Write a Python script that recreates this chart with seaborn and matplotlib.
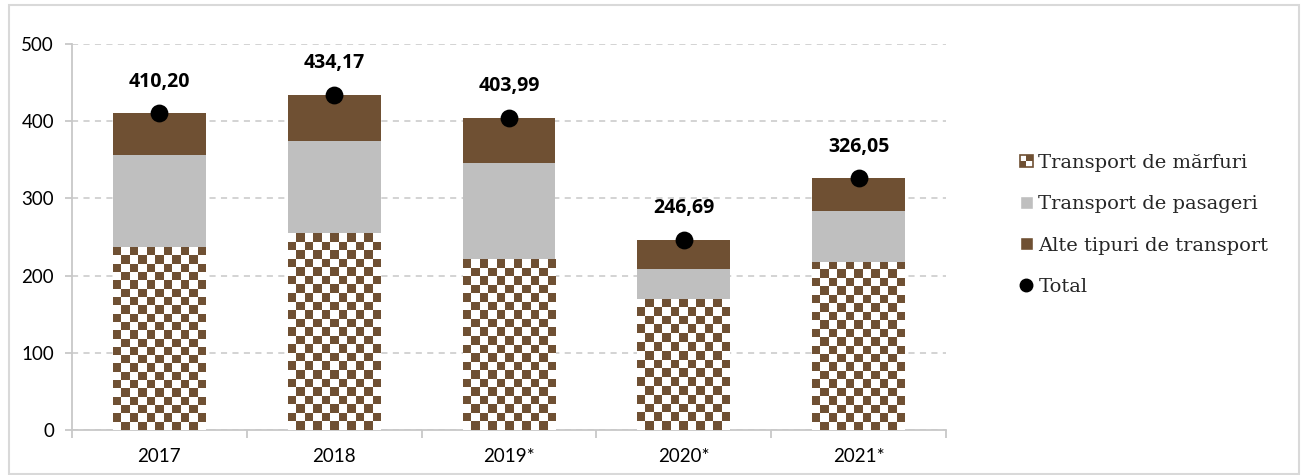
import numpy as np
import pandas as pd
import matplotlib
matplotlib.use("Agg")
import matplotlib.pyplot as plt
from matplotlib.patches import Rectangle, Patch
from matplotlib.lines import Line2D
from matplotlib.legend_handler import HandlerBase
import seaborn as sns

years = ["2017", "2018", "2019*", "2020*", "2021*"]
marfuri = [237, 255, 221, 170, 218]
pasageri = [119, 119, 125, 38, 66]
total = [410.20, 434.17, 403.99, 246.69, 326.05]
series_names = ["Transport de mărfuri", "Transport de pasageri",
                "Alte tipuri de transport", "Total"]

BROWN = "#6F5033"
GRAY = "#BFBFBF"
AXGRAY = "#C8C8C8"

sns.set_theme(style="white")
plt.rcParams["font.family"] = ["Lato", "DejaVu Sans"]

df = pd.DataFrame({"year": years, "marfuri": marfuri, "pasageri": pasageri, "total": total})
df["mp"] = df["marfuri"] + df["pasageri"]

fig = plt.figure(figsize=(13.04, 4.75), dpi=100)
ax = fig.add_axes([72/1304, 1-430/475, (946-72)/1304, (430-44)/475])

W = 0.53
sns.barplot(data=df, x="year", y="total", color=BROWN, saturation=1, width=W, ax=ax, zorder=2, linewidth=0)
sns.barplot(data=df, x="year", y="mp", color=GRAY, saturation=1, width=W, ax=ax, zorder=3, linewidth=0)
sns.barplot(data=df, x="year", y="marfuri", color="white", saturation=1, width=W, ax=ax, zorder=4, linewidth=0)

ax.set_ylim(0, 500)
ax.set_xlim(-0.5, len(years) - 0.5)

# checkerboard fill for freight bars
fig.canvas.draw()
marf_patches = ax.patches[2*len(years):3*len(years)]
cmap = matplotlib.colors.ListedColormap(["white", BROWN])
cell_px = 8.5
for p in marf_patches:
    x0 = p.get_x(); w = p.get_width(); h = p.get_height()
    p0 = ax.transData.transform((x0, 0)); p1 = ax.transData.transform((x0 + w, h))
    ncol = max(1, int(round(abs(p1[0]-p0[0]) / cell_px)))
    nrow = max(1, int(round(abs(p1[1]-p0[1]) / cell_px)))
    ii, jj = np.indices((nrow, ncol))
    img = ((ii + jj) % 2).astype(float)
    im = ax.imshow(img, extent=(x0, x0 + w, 0, h), origin="lower", cmap=cmap,
                   aspect="auto", interpolation="nearest", zorder=4.5, vmin=0, vmax=1)
    im.set_clip_path(p)

# total points
sns.pointplot(data=df, x="year", y="total", color="black", linestyle="none",
              marker="o", markersize=10.8, errorbar=None, ax=ax, zorder=6)
for c in ax.collections:
    c.set_zorder(6)
for ln in ax.lines:
    ln.set_zorder(6)

for i, v in enumerate(total):
    ax.text(i, v + 41, f"{v:.2f}".replace(".", ","), ha="center", va="center",
            fontsize=14, fontweight="bold", color="black", zorder=7,
            family=["Open Sans", "DejaVu Sans"])

ax.set_ylim(0, 500)
ax.set_xlim(-0.5, len(years) - 0.5)
ax.set_xlabel(""); ax.set_ylabel("")
ax.set_yticks([0, 100, 200, 300, 400, 500])
ax.yaxis.grid(True, color=AXGRAY, linestyle=(0, (4, 3.5)), linewidth=1.1)
ax.xaxis.grid(False)
ax.set_axisbelow(True)
for s in ["top", "right"]:
    ax.spines[s].set_visible(False)
for s in ["left", "bottom"]:
    ax.spines[s].set_color(AXGRAY); ax.spines[s].set_linewidth(1.3)
ax.tick_params(axis="y", which="major", length=5, color=AXGRAY, width=1.3, labelsize=13.5,
               labelcolor="black", pad=8, left=True)
ax.tick_params(axis="x", which="major", length=0, labelsize=13.5, labelcolor="black", pad=13)
ax.set_xticks(np.arange(-0.5, len(years)), minor=True)
ax.tick_params(axis="x", which="minor", length=6, color=AXGRAY, width=1.3, bottom=True)

# legend
class CheckerHandler(HandlerBase):
    def create_artists(self, legend, orig_handle, xdescent, ydescent, width, height, fontsize, trans):
        s = min(width, height)
        x0 = -xdescent + (width - s) / 2; y0 = -ydescent + (height - s) / 2
        c = s / 2
        arts = [Rectangle((x0, y0), s, s, facecolor="white", edgecolor=BROWN, lw=1.2, transform=trans)]
        arts.append(Rectangle((x0, y0), c, c, facecolor=BROWN, edgecolor="none", transform=trans))
        arts.append(Rectangle((x0 + c, y0 + c), c, c, facecolor=BROWN, edgecolor="none", transform=trans))
        return arts

h_m = Patch(facecolor="white")
h_p = Patch(facecolor=GRAY)
h_a = Patch(facecolor=BROWN)
h_t = Line2D([], [], marker="o", color="black", linestyle="none", markersize=9)
fig.legend([h_m, h_p, h_a, h_t], series_names, loc="center left",
           bbox_to_anchor=(1020/1304, 1-225/475), frameon=False,
           prop={"family": ["DejaVu Serif"], "size": 14},
           handler_map={h_m: CheckerHandler()}, handlelength=0.65, handleheight=0.65,
           handletextpad=0.3, labelspacing=1.2, borderpad=0, borderaxespad=0)

fig.patches.append(Rectangle((9/1304, 1/475), (1299-9)/1304, (469)/475, transform=fig.transFigure,
                             facecolor="none", edgecolor="#D9D9D9", lw=1.5, zorder=0))

fig.savefig("out.png", dpi=100)
